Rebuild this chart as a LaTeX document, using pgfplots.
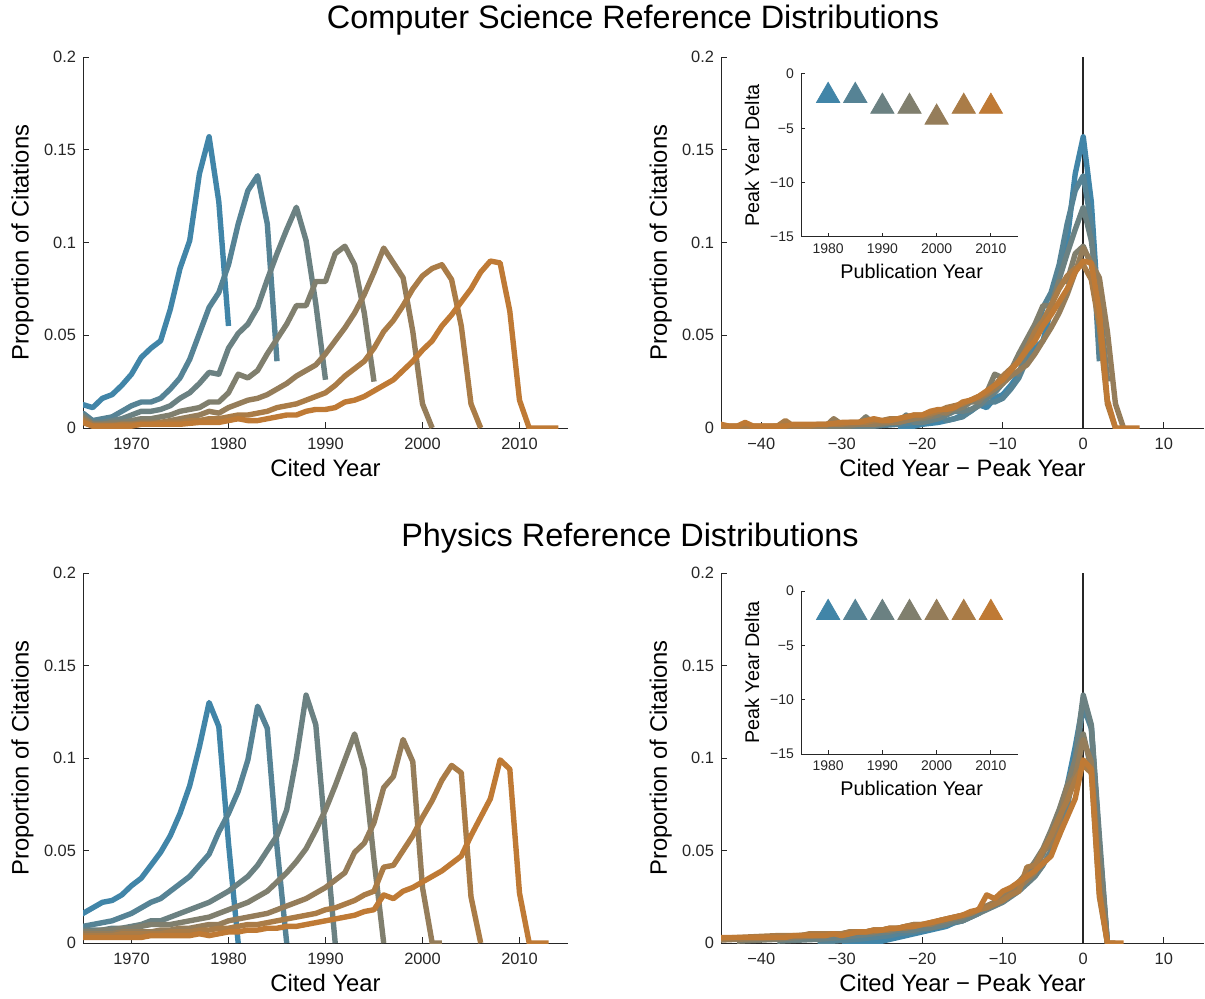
\documentclass[border=0pt]{standalone}
\usepackage{fontspec}
\setmainfont{Liberation Sans}
\usepackage{pgfplots}
\usepackage{pgfplotstable}
\pgfplotsset{compat=1.18}

\definecolor{cA}{HTML}{4185A8}
\definecolor{cB}{HTML}{568395}
\definecolor{cC}{HTML}{6B8182}
\definecolor{cD}{HTML}{807F6E}
\definecolor{cE}{HTML}{957D5A}
\definecolor{cF}{HTML}{AA7C47}
\definecolor{cG}{HTML}{BF7A35}
\definecolor{axgray}{HTML}{262626}

% computer science, one table per publication year (cited year, share)
\pgfplotstableread{
yr v
1955 0.000
1957 0.001
1958 0.002
1960 0.003
1961 0.004
1962 0.005
1963 0.007
1964 0.009
1965 0.0126
1966 0.011
1967 0.016
1968 0.018
1969 0.023
1970 0.029
1971 0.038
1972 0.043
1973 0.047
1974 0.064
1975 0.086
1976 0.101
1977 0.137
1978 0.157
1979 0.122
1980 0.055
}\csA
\pgfplotstableread{
yr v
1955 0.000
1957 0.001
1960 0.002
1962 0.003
1963 0.003
1964 0.004
1965 0.008
1966 0.004
1967 0.005
1968 0.006
1969 0.009
1970 0.012
1971 0.014
1972 0.014
1973 0.016
1974 0.021
1975 0.027
1976 0.037
1977 0.051
1978 0.065
1979 0.073
1980 0.088
1981 0.110
1982 0.128
1983 0.136
1984 0.110
1985 0.036
}\csB
\pgfplotstableread{
yr v
1955 0.000
1958 0.001
1961 0.001
1962 0.002
1964 0.003
1965 0.007
1966 0.003
1967 0.003
1968 0.004
1969 0.005
1970 0.007
1971 0.009
1972 0.009
1973 0.010
1974 0.012
1975 0.016
1976 0.019
1977 0.024
1978 0.030
1979 0.029
1980 0.043
1981 0.051
1982 0.056
1983 0.065
1984 0.080
1985 0.094
1986 0.107
1987 0.119
1988 0.101
1989 0.067
1990 0.026
}\csC
\pgfplotstableread{
yr v
1955 0.000
1958 0.001
1963 0.001
1964 0.002
1965 0.006
1966 0.002
1967 0.002
1968 0.003
1969 0.003
1970 0.004
1971 0.005
1972 0.005
1973 0.006
1974 0.007
1975 0.009
1976 0.010
1977 0.011
1978 0.014
1979 0.014
1980 0.019
1981 0.029
1982 0.027
1983 0.031
1984 0.040
1985 0.048
1986 0.056
1987 0.066
1988 0.066
1989 0.079
1990 0.079
1991 0.094
1992 0.098
1993 0.088
1994 0.062
1995 0.025
}\csD
\pgfplotstableread{
yr v
1955 0.000
1958 0.001
1964 0.001
1965 0.005
1966 0.002
1970 0.002
1971 0.003
1973 0.003
1974 0.004
1975 0.005
1976 0.006
1977 0.007
1978 0.009
1979 0.008
1980 0.011
1981 0.013
1982 0.015
1983 0.016
1984 0.018
1985 0.021
1986 0.024
1987 0.028
1988 0.031
1989 0.034
1990 0.040
1991 0.047
1992 0.054
1993 0.062
1994 0.072
1995 0.084
1996 0.097
1997 0.089
1998 0.081
1999 0.052
2000 0.013
2001 0.000
}\csE
\pgfplotstableread{
yr v
1955 0.000
1958 0.001
1964 0.001
1965 0.004
1966 0.001
1968 0.001
1969 0.002
1972 0.002
1973 0.003
1975 0.003
1976 0.004
1977 0.004
1978 0.005
1979 0.005
1980 0.006
1981 0.007
1982 0.007
1983 0.008
1984 0.009
1985 0.011
1986 0.012
1987 0.013
1988 0.015
1989 0.017
1990 0.019
1991 0.023
1992 0.028
1993 0.032
1994 0.036
1995 0.043
1996 0.052
1997 0.058
1998 0.066
1999 0.075
2000 0.082
2001 0.086
2002 0.088
2003 0.080
2004 0.055
2005 0.013
2006 0.000
}\csF
\pgfplotstableread{
yr v
1958 0.001
1961 0.001
1962 0.002
1963 0.001
1964 0.001
1965 0.003
1966 0.001
1970 0.001
1971 0.002
1975 0.002
1977 0.003
1979 0.003
1980 0.004
1981 0.005
1982 0.004
1983 0.004
1984 0.005
1985 0.006
1986 0.007
1987 0.007
1988 0.009
1989 0.010
1990 0.010
1991 0.011
1992 0.014
1993 0.015
1994 0.017
1995 0.020
1996 0.023
1997 0.026
1998 0.031
1999 0.036
2000 0.042
2001 0.047
2002 0.055
2003 0.061
2004 0.068
2005 0.075
2006 0.084
2007 0.090
2008 0.089
2009 0.063
2010 0.015
2011 0.000
2012 0.000
2013 0.000
2014 0.000
}\csG

% physics
\pgfplotstableread{
yr v
1948 0.000
1950 0.0005
1953 0.001
1955 0.003
1957 0.005
1959 0.007
1960 0.008
1961 0.009
1962 0.011
1963 0.012
1964 0.014
1965 0.016
1966 0.019
1967 0.022
1968 0.023
1969 0.026
1970 0.031
1971 0.035
1972 0.042
1973 0.049
1974 0.058
1975 0.070
1976 0.085
1977 0.106
1978 0.130
1979 0.117
1980 0.054
1981 0.000
}\phA
\pgfplotstableread{
yr v
1950 0.000
1952 0.001
1955 0.002
1957 0.003
1959 0.004
1960 0.005
1962 0.006
1963 0.007
1964 0.008
1965 0.009
1966 0.010
1967 0.011
1968 0.012
1969 0.014
1970 0.016
1971 0.019
1972 0.022
1973 0.024
1974 0.028
1975 0.032
1976 0.036
1977 0.042
1978 0.048
1979 0.060
1980 0.070
1981 0.082
1982 0.099
1983 0.128
1984 0.116
1985 0.052
1986 0.000
}\phB
\pgfplotstableread{
yr v
1950 0.001
1955 0.002
1958 0.003
1960 0.004
1962 0.005
1964 0.006
1965 0.007
1967 0.007
1968 0.008
1969 0.008
1970 0.009
1971 0.010
1972 0.012
1973 0.012
1974 0.014
1975 0.016
1976 0.018
1977 0.020
1978 0.022
1979 0.025
1980 0.028
1981 0.032
1982 0.036
1983 0.042
1984 0.050
1985 0.058
1986 0.072
1987 0.100
1988 0.134
1989 0.118
1990 0.058
1991 0.000
}\phC
\pgfplotstableread{
yr v
1950 0.001
1955 0.002
1960 0.004
1962 0.005
1964 0.005
1965 0.006
1966 0.006
1967 0.007
1968 0.007
1969 0.008
1970 0.008
1971 0.009
1972 0.010
1974 0.010
1975 0.011
1976 0.012
1977 0.013
1978 0.014
1979 0.016
1980 0.018
1981 0.020
1982 0.022
1983 0.025
1984 0.028
1985 0.033
1986 0.038
1987 0.044
1988 0.051
1989 0.061
1990 0.072
1991 0.085
1992 0.099
1993 0.113
1994 0.094
1995 0.045
1996 0.000
}\phD
\pgfplotstableread{
yr v
1950 0.001
1955 0.002
1960 0.003
1965 0.005
1968 0.005
1969 0.006
1972 0.006
1973 0.007
1974 0.007
1975 0.008
1976 0.008
1977 0.009
1978 0.010
1979 0.010
1980 0.012
1981 0.013
1982 0.014
1983 0.015
1984 0.016
1985 0.018
1986 0.020
1987 0.022
1988 0.024
1989 0.027
1990 0.030
1991 0.034
1992 0.038
1993 0.049
1994 0.054
1995 0.065
1996 0.084
1997 0.090
1998 0.110
1999 0.098
2000 0.030
2001 0.000
2002 0.000
}\phE
\pgfplotstableread{
yr v
1950 0.001
1955 0.002
1960 0.003
1965 0.004
1968 0.004
1969 0.005
1973 0.005
1974 0.006
1976 0.006
1977 0.007
1978 0.007
1979 0.008
1980 0.008
1981 0.009
1982 0.010
1983 0.010
1984 0.011
1985 0.012
1986 0.013
1987 0.014
1988 0.015
1989 0.016
1990 0.018
1991 0.019
1992 0.021
1993 0.023
1994 0.026
1995 0.028
1996 0.041
1997 0.042
1998 0.050
1999 0.058
2000 0.068
2001 0.077
2002 0.088
2003 0.096
2004 0.092
2005 0.025
2006 0.000
}\phF
\pgfplotstableread{
yr v
1950 0.001
1955 0.002
1960 0.002
1963 0.003
1971 0.003
1972 0.004
1976 0.004
1977 0.005
1978 0.004
1979 0.005
1980 0.006
1981 0.006
1982 0.007
1983 0.007
1984 0.008
1985 0.008
1986 0.009
1987 0.009
1988 0.010
1989 0.011
1990 0.012
1991 0.013
1992 0.014
1993 0.015
1994 0.017
1995 0.018
1996 0.026
1997 0.024
1998 0.028
1999 0.030
2000 0.033
2001 0.036
2002 0.039
2003 0.043
2004 0.047
2005 0.058
2006 0.068
2007 0.078
2008 0.099
2009 0.094
2010 0.027
2011 0.000
2012 0.000
2013 0.000
}\phG

\pgfplotsset{
  base/.style={
    scale only axis,
    axis x line*=bottom, axis y line*=left,
    tick pos=left, tick align=inside,
    axis line style={axgray, line width=0.5pt, -},
    every outer x axis line/.append style={-},
    every outer y axis line/.append style={-},
    every tick/.style={axgray, line width=0.5pt},
    scaled ticks=false,
    /pgf/number format/assume math mode=true,
    tick label style={text=axgray},
  },
  panel/.style={
    base,
    width=242.5pt, height=185.5pt,
    major tick length=3pt,
    ymin=0, ymax=0.2,
    ytick={0,0.05,0.1,0.15,0.2},
    yticklabels={0,0.05,0.1,0.15,0.2},
    tick label style={font=\fontsize{8.2}{9}\selectfont},
    xticklabel style={yshift=-1.5pt},
    ylabel={Proportion of Citations},
    every axis y label/.style={at={(axis description cs:-0.125,0.5)}, rotate=90, anchor=center, font=\fontsize{11.9}{13}\selectfont},
    every axis x label/.style={at={(axis description cs:0.5,-0.108)}, anchor=center, font=\fontsize{11.9}{13}\selectfont},
    every axis plot/.append style={line width=2.7pt, line join=round},
  },
  leftpanel/.style={
    panel,
    xmin=1965, xmax=2015,
    xtick={1970,1980,1990,2000,2010},
    xticklabels={1970,1980,1990,2000,2010},
    xlabel={Cited Year},
  },
  rightpanel/.style={
    panel,
    width=241.5pt,
    xmin=-45, xmax=15,
    xtick={-40,-30,-20,-10,0,10},
    xticklabels={−40,−30,−20,−10,0,10},
    xlabel={Cited Year − Peak Year},
  },
  inset/.style={
    base,
    width=108.5pt, height=81.5pt,
    major tick length=2pt,
    xmin=1975, xmax=2015, ymin=-15, ymax=0,
    xtick={1980,1990,2000,2010},
    xticklabels={1980,1990,2000,2010},
    ytick={-15,-10,-5,0},
    yticklabels={−15,−10,−5,0},
    tick label style={font=\fontsize{7}{8}\selectfont},
    xlabel={Publication Year},
    ylabel={Peak Year Delta},
    every axis y label/.style={at={(axis description cs:-0.226,0.5)}, rotate=90, anchor=center, font=\fontsize{9.9}{11}\selectfont},
    every axis x label/.style={at={(axis description cs:0.51,-0.209)}, anchor=center, font=\fontsize{9.9}{11}\selectfont},
  },
  tri/.style={only marks, mark=triangle*, mark size=6.7pt},
}

\begin{document}
\begin{tikzpicture}
\useasboundingbox (0,0) rectangle (602.5pt,499pt);

\node[font=\fontsize{16.2}{19}\selectfont] at (316.5pt,489pt) {Computer Science Reference Distributions};
\node[font=\fontsize{16.2}{19}\selectfont] at (315pt,230pt) {Physics Reference Distributions};

% computer science, by cited year
\begin{axis}[leftpanel, at={(41.5pt,285pt)}, anchor=south west]
  \addplot[cA] table[x=yr, y=v] {\csA};
  \addplot[cB] table[x=yr, y=v] {\csB};
  \addplot[cC] table[x=yr, y=v] {\csC};
  \addplot[cD] table[x=yr, y=v] {\csD};
  \addplot[cE] table[x=yr, y=v] {\csE};
  \addplot[cF] table[x=yr, y=v] {\csF};
  \addplot[cG] table[x=yr, y=v] {\csG};
\end{axis}

% computer science, shifted by peak year
\begin{axis}[rightpanel, at={(360.5pt,285pt)}, anchor=south west]
  \addplot[axgray, line width=1pt] coordinates {(0,0) (0,0.2)};
  \addplot[cA] table[x expr=\thisrow{yr}-1978, y=v] {\csA};
  \addplot[cB] table[x expr=\thisrow{yr}-1983, y=v] {\csB};
  \addplot[cC] table[x expr=\thisrow{yr}-1987, y=v] {\csC};
  \addplot[cD] table[x expr=\thisrow{yr}-1992, y=v] {\csD};
  \addplot[cE] table[x expr=\thisrow{yr}-1996, y=v] {\csE};
  \addplot[cF] table[x expr=\thisrow{yr}-2002, y=v] {\csF};
  \addplot[cG] table[x expr=\thisrow{yr}-2007, y=v] {\csG};
\end{axis}

\begin{axis}[inset, at={(400.5pt,380.5pt)}, anchor=south west]
  \addplot[tri, cA] coordinates {(1980,-2)};
  \addplot[tri, cB] coordinates {(1985,-2)};
  \addplot[tri, cC] coordinates {(1990,-3)};
  \addplot[tri, cD] coordinates {(1995,-3)};
  \addplot[tri, cE] coordinates {(2000,-4)};
  \addplot[tri, cF] coordinates {(2005,-3)};
  \addplot[tri, cG] coordinates {(2010,-3)};
\end{axis}

% physics, by cited year
\begin{axis}[leftpanel, at={(41.5pt,27.5pt)}, anchor=south west, height=185pt]
  \addplot[cA] table[x=yr, y=v] {\phA};
  \addplot[cB] table[x=yr, y=v] {\phB};
  \addplot[cC] table[x=yr, y=v] {\phC};
  \addplot[cD] table[x=yr, y=v] {\phD};
  \addplot[cE] table[x=yr, y=v] {\phE};
  \addplot[cF] table[x=yr, y=v] {\phF};
  \addplot[cG] table[x=yr, y=v] {\phG};
\end{axis}

% physics, shifted by peak year
\begin{axis}[rightpanel, at={(360.5pt,27.5pt)}, anchor=south west, height=185pt]
  \addplot[axgray, line width=1pt] coordinates {(0,0) (0,0.2)};
  \addplot[cA] table[x expr=\thisrow{yr}-1978, y=v] {\phA};
  \addplot[cB] table[x expr=\thisrow{yr}-1983, y=v] {\phB};
  \addplot[cC] table[x expr=\thisrow{yr}-1988, y=v] {\phC};
  \addplot[cD] table[x expr=\thisrow{yr}-1993, y=v] {\phD};
  \addplot[cE] table[x expr=\thisrow{yr}-1998, y=v] {\phE};
  \addplot[cF] table[x expr=\thisrow{yr}-2003, y=v] {\phF};
  \addplot[cG] table[x expr=\thisrow{yr}-2008, y=v] {\phG};
\end{axis}

\begin{axis}[inset, at={(400.5pt,122pt)}, anchor=south west]
  \addplot[tri, cA] coordinates {(1980,-2)};
  \addplot[tri, cB] coordinates {(1985,-2)};
  \addplot[tri, cC] coordinates {(1990,-2)};
  \addplot[tri, cD] coordinates {(1995,-2)};
  \addplot[tri, cE] coordinates {(2000,-2)};
  \addplot[tri, cF] coordinates {(2005,-2)};
  \addplot[tri, cG] coordinates {(2010,-2)};
\end{axis}
\end{tikzpicture}
\end{document}
